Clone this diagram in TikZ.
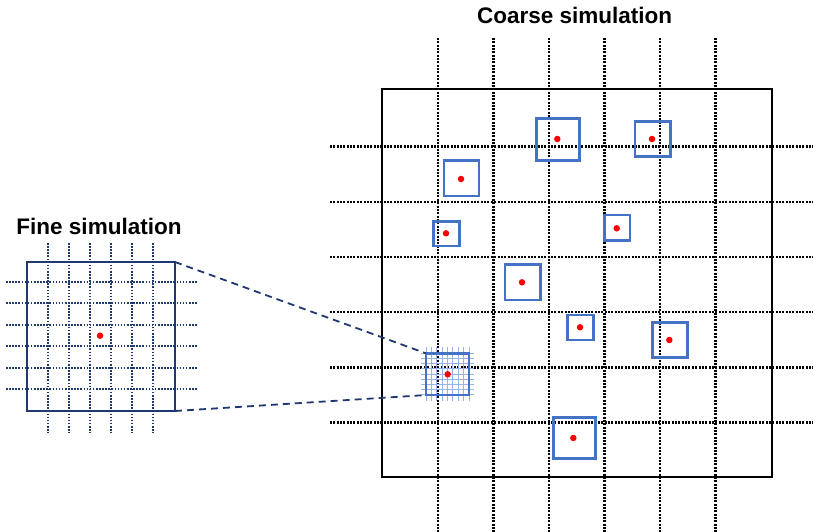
\documentclass[tikz,border=0pt]{standalone}
\usepackage{fontspec}
\setmainfont{Liberation Sans}
\usepackage{tikz}
\usetikzlibrary{positioning,calc}
\definecolor{patchblue}{RGB}{68,114,196}
\definecolor{finenavy}{RGB}{31,56,110}
\definecolor{meshblue}{RGB}{150,180,230}
\tikzset{
  coarsegrid/.style={black,line width=2.5pt,dash pattern=on 2pt off 1.35pt},
  finegrid/.style={finenavy,line width=2pt,dash pattern=on 1.6pt off 1.5pt},
  simbox/.style={draw,line width=2.6pt,inner sep=0pt,outer sep=0pt},
  patch/.style={draw=patchblue,line width=2.6pt,inner sep=0pt,outer sep=0pt},
  probe/.style={circle,fill=red,inner sep=0pt,minimum size=6.5pt},
  title/.style={font=\bfseries\fontsize{22.5}{24}\selectfont,inner sep=0pt,anchor=base},
  zoomline/.style={finenavy,line width=1.8pt,dash pattern=on 7pt off 5pt}
}
\begin{document}
\begin{tikzpicture}[x=1pt,y=-1pt]
\useasboundingbox (0,0) rectangle (813,532);
\node[title] (coarsetitle) at (574.7,24) {Coarse simulation};
\node[title] (finetitle) at (99,234) {Fine simulation};
\foreach \x in {438,493.5,549,604.5,660,715.5}
  \draw[coarsegrid] (\x,38) -- (\x,532);
\foreach \y in {146.7,201.8,256.9,312.1,367.3,422.4}
  \draw[coarsegrid] (330,\y) -- (813,\y);
\node[simbox,minimum width=390pt,minimum height=388pt] (coarse) at (577,283) {};
\foreach \x in {47.7,68.8,89.9,111,132.1,153.2}
  \draw[finegrid] (\x,243) -- (\x,433);
\foreach \y in {281.7,303.2,324.7,346.2,367.7,389.2}
  \draw[finegrid] (6,\y) -- (197,\y);
\node[simbox,draw=finenavy,minimum width=148pt,minimum height=149pt] (fine) at (101,336.5) {};
\foreach \k in {0,...,8} {
  \draw[meshblue,line width=0.9pt] (426+5.375*\k,347) -- (426+5.375*\k,401);
  \draw[meshblue,line width=0.9pt] (421,353.3+5.2*\k) -- (474,353.3+5.2*\k);
}
\node[patch,minimum width=43pt,minimum height=41.7pt] (finepatch) at (447.5,374.2) {};
\node[patch,minimum width=42.6pt,minimum height=42.4pt] (patch1) at (558,139.5) {};
\node[patch,minimum width=35.7pt,minimum height=35pt] (patch2) at (652.8,139.2) {};
\node[patch,minimum width=35pt,minimum height=35.3pt] (patch3) at (461.5,178.3) {};
\node[patch,minimum width=26pt,minimum height=24.3pt] (patch4) at (446.3,233.8) {};
\node[patch,minimum width=25.7pt,minimum height=25.7pt] (patch5) at (617.2,227.8) {};
\node[patch,minimum width=35.7pt,minimum height=35.7pt] (patch6) at (522.8,282.2) {};
\node[patch,minimum width=26pt,minimum height=25pt] (patch7) at (580.3,327.5) {};
\node[patch,minimum width=35.4pt,minimum height=35pt] (patch8) at (670,339.8) {};
\node[patch,minimum width=42.4pt,minimum height=40.6pt] (patch9) at (574.5,438) {};
\foreach \name/\x/\y in {p1/557.3/139,p2/652/139,p3/461/179,p4/446/233.3,p5/616.7/228.3,
  p6/522/282.3,p7/580/327.3,p8/669.3/340,p9/573.3/438,p10/447.7/374.3,pfine/100/335.7}
  \node[probe] (\name) at (\x,\y) {};
\draw[zoomline] (fine.north east) -- (finepatch.north west);
\draw[zoomline] (fine.south east) -- (finepatch.south west);
\end{tikzpicture}
\end{document}
